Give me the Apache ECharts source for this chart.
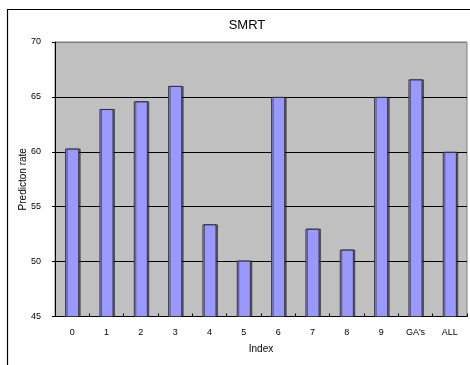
<!DOCTYPE html>
<html>
<head>
<meta charset="utf-8">
<script src="https://cdn.jsdelivr.net/npm/echarts@6/dist/echarts.min.js"></script>
<style>html,body{margin:0;padding:0;background:#fff}#c{width:470px;height:365px}</style>
</head>
<body>
<div id="c"></div>
<script>
var categories = ['0','1','2','3','4','5','6','7','8','9','GA\'s','ALL'];
var values = [60.3, 63.9, 64.6, 66.0, 53.4, 50.1, 65.0, 53.0, 51.1, 65.0, 66.6, 60.0];
var yTicks = { min: 45, max: 70, interval: 5 };
var titleText = 'SMRT';
var xName = 'Index';
var yName = 'Predicton rate';

var chart = echarts.init(document.getElementById('c'), null, { renderer: 'canvas' });
var font = 'Liberation Sans, Arial, sans-serif';
chart.setOption({
  animation: false,
  backgroundColor: '#fff',
  title: {
    text: titleText, left: 242, top: 14, textAlign: 'center',
    textStyle: { fontFamily: font, fontSize: 13, fontWeight: 'normal', color: '#000' }
  },
  graphic: [{
    type: 'rect', left: 5, top: 7, silent: true, z: -1,
    shape: { width: 480, height: 380 },
    style: { fill: 'none', stroke: '#000', lineWidth: 1.2 }
  }],
  grid: {
    left: 55, right: 3, top: 42, bottom: 48.5,
    show: true, backgroundColor: '#C0C0C0', borderColor: '#808080', borderWidth: 1
  },
  xAxis: {
    type: 'category', data: categories,
    name: xName, nameLocation: 'middle', nameGap: 28,
    nameTextStyle: { fontFamily: font, fontSize: 10, color: '#000' },
    axisLine: { lineStyle: { color: '#000', width: 1 } },
    axisTick: { show: true, inside: true, length: 3, lineStyle: { color: '#000' } },
    axisLabel: { fontFamily: font, fontSize: 9, color: '#000', margin: 12 }
  },
  yAxis: {
    type: 'value', min: yTicks.min, max: yTicks.max, interval: yTicks.interval,
    name: yName, nameLocation: 'middle', nameGap: 27, nameMoveOverlap: false,
    nameTextStyle: { fontFamily: font, fontSize: 10, color: '#000' },
    axisLine: { show: true, lineStyle: { color: '#000', width: 1 } },
    axisTick: { show: true, inside: false, length: 3, lineStyle: { color: '#000' } },
    axisLabel: { fontFamily: font, fontSize: 9, color: '#000', margin: 14 },
    splitLine: { show: true, lineStyle: { color: ['#000','#000','#000','#000','#000','#808080'], width: 1 } }
  },
  series: [{
    type: 'bar', data: values, barWidth: '41%',
    itemStyle: {
      color: '#9999FF', borderColor: '#333', borderWidth: 1,
      shadowColor: 'rgba(0,0,0,0.45)', shadowOffsetX: 1.5, shadowOffsetY: 0, shadowBlur: 0
    }
  }]
});
</script>
</body>
</html>
